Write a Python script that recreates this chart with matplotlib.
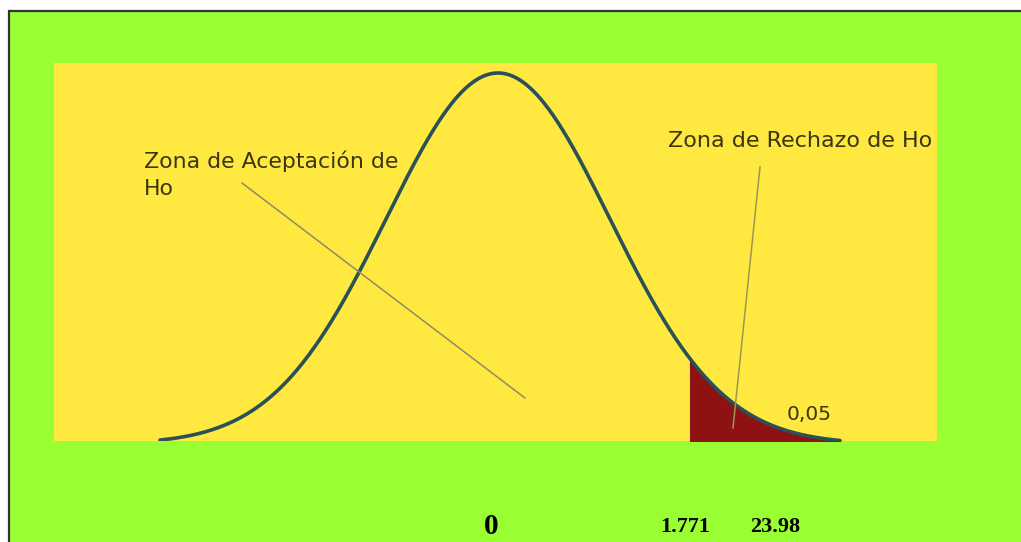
import numpy as np
import matplotlib
matplotlib.use('Agg')
import matplotlib.pyplot as plt
from matplotlib.patches import Rectangle

# one tail test, critical value and alpha
t_crit = 1.771
sd = 1.033
alpha_label = '0,05'
x_labels = ['0', '1.771', '23.98']
x_label_pos = [491, 685, 775]   # pixel centres in the figure
x_label_size = [21, 16, 16]

W, H = 1021, 542
fig = plt.figure(figsize=(W / 100, H / 100), dpi=100)
fig.patch.set_facecolor('white')

# green panel with dark border on top / left
fig.patches.append(Rectangle((9 / W, -0.1), 1.2, (H - 11) / H + 0.1, transform=fig.transFigure,
                             facecolor='#99FF33', edgecolor='#333333', linewidth=1.6,
                             zorder=-10))

ax = fig.add_axes([54 / W, (H - 441) / H, 883 / W, 378 / H])
ax.set_zorder(5)
ax.set_facecolor('#FFE840')
for s in ax.spines.values():
    s.set_visible(False)
ax.set_xticks([])
ax.set_yticks([])

cx, base, amp = 498.0, 444.0, 371.0
px = (690 - cx) / t_crit  # pixels per unit
ax.set_xlim((54 - cx) / px, (937 - cx) / px)
ax.set_ylim((base - 441) / amp, (base - 63) / amp)

t = np.linspace((160 - cx) / px, (840 - cx) / px, 600)
dens = np.exp(-0.5 * (t / sd) ** 2)

tail = t >= t_crit
ax.fill_between(t[tail], 0, dens[tail], color='#8E1212', zorder=2)
ax.plot(t, dens, color='#2A5058', linewidth=2.6, zorder=3, solid_capstyle='round')

def px2d(x, y):
    return ((x - cx) / px, (base - y) / amp)

# pointer lines
a0, a1 = px2d(242, 183), px2d(525, 398)
ax.plot([a0[0], a1[0]], [a0[1], a1[1]], color='#8E8C62', linewidth=1.1, zorder=4)
r0, r1 = px2d(760, 167), px2d(733, 428)
ax.plot([r0[0], r1[0]], [r0[1], r1[1]], color='#9C9656', linewidth=1.1, zorder=4)

tc = '#3A3612'
p = px2d(144, 150)
ax.text(p[0], p[1], 'Zona de Aceptación de\nHo', fontsize=15.8, color=tc,
        ha='left', va='top', linespacing=1.45, zorder=5)
p = px2d(668, 141)
ax.text(p[0], p[1], 'Zona de Rechazo de Ho', fontsize=16, color=tc,
        ha='left', va='center', zorder=5)
p = px2d(787, 415)
ax.text(p[0], p[1], alpha_label, fontsize=14.5, color=tc, ha='left', va='center', zorder=5)

for lab, xp, fs in zip(x_labels, x_label_pos, x_label_size):
    fig.text(xp / W, (H - 527) / H, lab, fontsize=fs, fontweight='bold',
             family='Liberation Serif', ha='center', va='center', color='black')

fig.savefig('out.png', dpi=100)
